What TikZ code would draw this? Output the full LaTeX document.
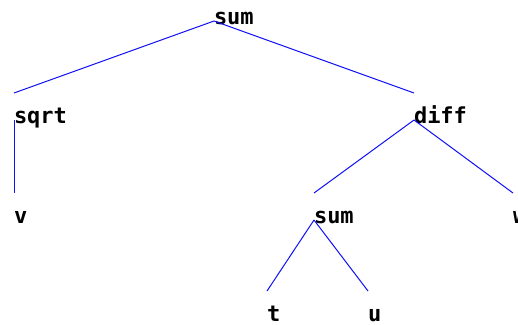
\documentclass[tikz,border=0pt]{standalone}
\usepackage{fontspec}
\newfontfamily\treefont{DejaVu Sans Mono}
\usetikzlibrary{calc}
\definecolor{edgeblue}{HTML}{1010F8}

\begin{document}
\begin{tikzpicture}[x=1pt, y=-1pt,
  treenode/.style={inner sep=0pt, outer sep=0pt, anchor=south west,
    text height=30pt, text depth=0pt,
    font=\treefont\bfseries\fontsize{22}{22}\selectfont},
  edge/.style={edgeblue, line width=1pt}]

% Canvas
\useasboundingbox (0,0) rectangle (518,324);
\clip (0,0) rectangle (518,324);
\fill[white] (0,0) rectangle (518,324);

% Level 0
\node[treenode] (sumtop) at (214,24) {sum};

% Level 1
\node[treenode] (sqrt) at (14,123) {sqrt};
\node[treenode] (diff) at (414,123) {diff};

% Level 2
\node[treenode] (v) at (14,223) {v};
\node[treenode] (sumlow) at (314,223) {sum};
\node[treenode] (w) at (513,223) {w};

% Level 3
\node[treenode] (t) at (267,321) {t};
\node[treenode] (u) at (368,321) {u};

% Edges
\draw[edge] ([yshift=3pt]sumtop.south west) -- (sqrt.north west);
\draw[edge] ([yshift=3pt]sumtop.south west) -- (diff.north west);
\draw[edge] ([yshift=3pt]sqrt.south west) -- (v.north west);
\draw[edge] ([yshift=3pt]diff.south west) -- (sumlow.north west);
\draw[edge] ([yshift=3pt]diff.south west) -- (w.north west);
\draw[edge] ([yshift=3pt]sumlow.south west) -- (t.north west);
\draw[edge] ([yshift=3pt]sumlow.south west) -- (u.north west);

\end{tikzpicture}
\end{document}
